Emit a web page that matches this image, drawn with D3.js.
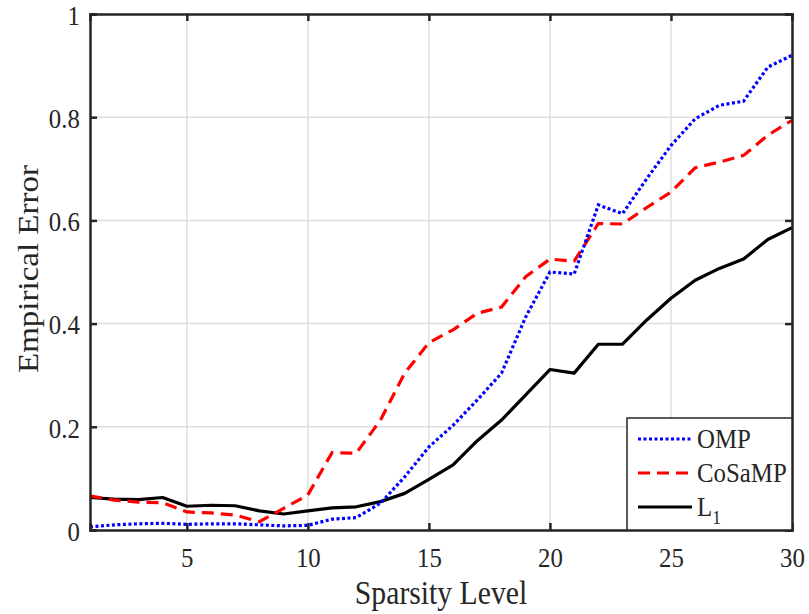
<!DOCTYPE html>
<html><head><meta charset="utf-8">
<script src="https://cdn.jsdelivr.net/npm/d3@7"></script>
<style>body{margin:0;background:#fff}svg{display:block}text{font-family:"Liberation Serif","Times New Roman",serif;fill:#262626}</style>
</head><body><svg id="c" width="809" height="614"></svg>
<script>
const sparsity = d3.range(1, 31);
const omp = [0.006,0.010,0.012,0.013,0.011,0.012,0.012,0.010,0.008,0.009,0.021,0.024,0.052,0.103,0.161,0.203,0.252,0.304,0.413,0.500,0.496,0.630,0.613,0.681,0.745,0.797,0.823,0.831,0.897,0.920];
const cosamp = [0.066,0.058,0.054,0.053,0.035,0.033,0.029,0.016,0.042,0.068,0.150,0.149,0.213,0.304,0.363,0.388,0.420,0.432,0.491,0.525,0.521,0.594,0.593,0.625,0.655,0.702,0.713,0.726,0.765,0.794];
const l1 = [0.063,0.060,0.059,0.063,0.046,0.048,0.047,0.037,0.031,0.037,0.043,0.045,0.055,0.071,0.098,0.126,0.173,0.213,0.262,0.311,0.304,0.360,0.360,0.407,0.449,0.484,0.507,0.525,0.563,0.586];
const xTicks = [5,10,15,20,25,30];
const yTicks = [0,0.2,0.4,0.6,0.8,1];
const seriesNames = ["OMP","CoSaMP","L1"];

const svg = d3.select("#c");
const L=90, R=792, T=14, B=530;
const x = d3.scaleLinear().domain([1,30]).range([L,R]);
const y = d3.scaleLinear().domain([0,1]).range([B,T]);
const axisCol="#262626";
const sq = 0.92; // glyphs in the reference are slightly narrow

// grid
svg.append("g").selectAll("line.gx").data(xTicks).join("line")
  .attr("x1",d=>x(d)).attr("x2",d=>x(d)).attr("y1",T).attr("y2",B)
  .attr("stroke","#dedede").attr("stroke-width",1.5);
svg.append("g").selectAll("line.gy").data(yTicks).join("line")
  .attr("x1",L).attr("x2",R).attr("y1",d=>y(d)).attr("y2",d=>y(d))
  .attr("stroke","#dedede").attr("stroke-width",1.5);

// lines
const line = d3.line().x((d,i)=>x(sparsity[i])).y(d=>y(d));
svg.append("path").datum(l1).attr("d",line).attr("fill","none").attr("stroke","#000").attr("stroke-width",3.2).attr("stroke-linejoin","round");
svg.append("path").datum(cosamp).attr("d",line).attr("fill","none").attr("stroke","#ff0000").attr("stroke-width",3.2).attr("stroke-dasharray","12,7");
svg.append("path").datum(omp).attr("d",line).attr("fill","none").attr("stroke","#0000ff").attr("stroke-width",3.2).attr("stroke-dasharray","3,2.5");

// axes
const fs=27;
const gx = svg.append("g").attr("transform",`translate(0,${B})`)
  .call(d3.axisBottom(x).tickValues(xTicks).tickSize(-7).tickPadding(18));
const gxt = svg.append("g").attr("transform",`translate(0,${T})`)
  .call(d3.axisTop(x).tickValues(xTicks).tickSize(-7).tickFormat(""));
const gy = svg.append("g").attr("transform",`translate(${L},0)`)
  .call(d3.axisLeft(y).tickValues(yTicks).tickSize(-7).tickPadding(11).tickFormat(d3.format("~g")));
const gyr = svg.append("g").attr("transform",`translate(${R},0)`)
  .call(d3.axisRight(y).tickValues(yTicks).tickSize(-7).tickFormat(""));
[gx,gxt,gy,gyr].forEach(g=>{
  g.select(".domain").attr("stroke",axisCol).attr("stroke-width",2.5);
  g.selectAll(".tick line").attr("stroke",axisCol).attr("stroke-width",2.5);
  g.selectAll(".tick text").attr("font-family","Liberation Serif").attr("font-size",fs).attr("fill",axisCol)
    .attr("transform",`scale(${sq},1)`);
});
gx.selectAll(".tick text").attr("dy","0.71em");
gy.selectAll(".tick text").attr("dy","0.38em");

// titles
svg.append("text").attr("transform",`translate(${(L+R)/2},604) scale(0.9,1)`).attr("text-anchor","middle").attr("font-size",33).text("Sparsity Level");
svg.append("text").attr("transform",`translate(38,${(T+B)/2 - 3}) rotate(-90) scale(1,0.9)`).attr("text-anchor","middle").attr("font-size",33).text("Empirical Error");

// legend
const lg = svg.append("g");
lg.append("rect").attr("x",627).attr("y",418).attr("width",R-627).attr("height",B-418)
  .attr("fill","#fff").attr("stroke",axisCol).attr("stroke-width",1.5);
const ly = d3.scalePoint().domain(seriesNames).range([439,507]);
const styles = {OMP:["#0000ff","3,2.5"],CoSaMP:["#ff0000","12,7"],L1:["#000","none"]};
seriesNames.forEach(n=>{
  lg.append("line").attr("x1",638).attr("x2",692).attr("y1",ly(n)).attr("y2",ly(n))
    .attr("stroke",styles[n][0]).attr("stroke-width",3.2).attr("stroke-dasharray",styles[n][1]);
});
const lsq = 0.92;
lg.append("text").attr("transform",`translate(697,${ly("OMP")+9}) scale(${lsq},1)`).attr("font-size",27).text("OMP");
lg.append("text").attr("transform",`translate(697,${ly("CoSaMP")+9}) scale(${lsq},1)`).attr("font-size",27).text("CoSaMP");
const t3 = lg.append("text").attr("transform",`translate(697,${ly("L1")+9}) scale(${lsq},1)`).attr("font-size",27);
t3.append("tspan").text("L");
t3.append("tspan").attr("font-size",19).attr("dy",8).text("1");
</script></body></html>
